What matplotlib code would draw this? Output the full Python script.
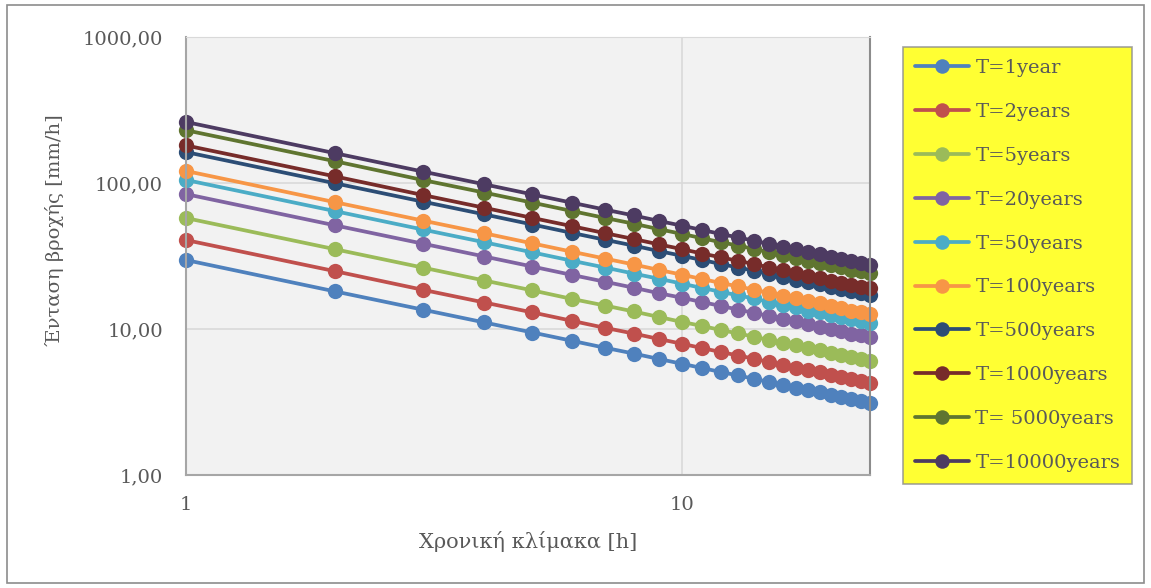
import matplotlib
matplotlib.use("Agg")
import matplotlib.pyplot as plt
from matplotlib.ticker import FixedLocator, NullLocator, FuncFormatter
from matplotlib.patches import Rectangle

plt.rcParams['font.family'] = ['DejaVu Serif', 'Liberation Serif']

durations = list(range(1, 25))

labels = ["T=1year", "T=2years", "T=5years", "T=20years", "T=50years",
          "T=100years", "T=500years", "T=1000years", "T= 5000years", "T=10000years"]

t1 = [29.7, 18.1, 13.6, 11.1, 9.47, 8.32, 7.45, 6.80, 6.24, 5.79, 5.41, 5.08,
      4.81, 4.57, 4.34, 4.16, 3.98, 3.80, 3.68, 3.53, 3.42, 3.30, 3.21, 3.12]
t2 = [40.7, 24.9, 18.6, 15.2, 13.0, 11.4, 10.2, 9.32, 8.55, 7.94, 7.41, 6.96,
      6.59, 6.27, 5.94, 5.70, 5.45, 5.21, 5.05, 4.84, 4.68, 4.52, 4.40, 4.27]
t5 = [57.6, 35.2, 26.4, 21.5, 18.4, 16.1, 14.5, 13.2, 12.1, 11.2, 10.5, 9.85,
      9.33, 8.87, 8.41, 8.06, 7.72, 7.37, 7.14, 6.85, 6.62, 6.39, 6.22, 6.05]
t20 = [84.0, 51.3, 38.5, 31.4, 26.8, 23.5, 21.1, 19.2, 17.6, 16.4, 15.3, 14.4,
       13.6, 12.9, 12.3, 11.8, 11.3, 10.8, 10.4, 10.0, 9.66, 9.32, 9.07, 8.82]
t50 = [105, 64.2, 48.1, 39.3, 33.5, 29.4, 26.4, 24.0, 22.1, 20.5, 19.1, 18.0,
       17.0, 16.2, 15.3, 14.7, 14.1, 13.4, 13.0, 12.5, 12.1, 11.7, 11.3, 11.0]
t100 = [121, 73.9, 55.4, 45.3, 38.6, 33.9, 30.4, 27.7, 25.4, 23.6, 22.0, 20.7,
        19.6, 18.6, 17.7, 16.9, 16.2, 15.5, 15.0, 14.4, 13.9, 13.4, 13.1, 12.7]
t500 = [163, 99.6, 74.7, 61.0, 52.0, 45.6, 40.9, 37.3, 34.2, 31.8, 29.7, 27.9,
        26.4, 25.1, 23.8, 22.8, 21.8, 20.9, 20.2, 19.4, 18.7, 18.1, 17.6, 17.1]
t1000 = [181, 111, 82.9, 67.7, 57.7, 50.7, 45.4, 41.4, 38.0, 35.3, 32.9, 31.0,
         29.3, 27.9, 26.4, 25.3, 24.3, 23.2, 22.4, 21.5, 20.8, 20.1, 19.5, 19.0]
t5000 = [230, 141, 105, 86.0, 73.4, 64.4, 57.7, 52.7, 48.3, 44.9, 41.9, 39.3,
         37.3, 35.4, 33.6, 32.2, 30.8, 29.4, 28.5, 27.4, 26.5, 25.5, 24.8, 24.2]
t10000 = [262, 160, 120, 98.0, 83.6, 73.4, 65.8, 60.0, 55.0, 51.1, 47.7, 44.8,
          42.4, 40.3, 38.3, 36.7, 35.1, 33.5, 32.5, 31.2, 30.1, 29.1, 28.3, 27.5]

series = [t1, t2, t5, t20, t50, t100, t500, t1000, t5000, t10000]
colors = ["#4f81bd", "#c0504d", "#9bbb59", "#8064a2", "#4bacc6",
          "#f79646", "#2c4d75", "#772c2a", "#5f7530", "#4d3b62"]

fig = plt.figure(figsize=(11.51, 5.88), dpi=100)
fig.patch.set_facecolor("white")
fig.patches.append(Rectangle((0.006, 0.008), 0.988, 0.984, transform=fig.transFigure,
                             fill=False, edgecolor="#8c8c8c", linewidth=1.2))

ax = fig.add_axes([0.1616, 0.192, 0.5944, 0.745])
ax.set_facecolor("#f2f2f2")
ax.set_xscale("log")
ax.set_yscale("log")
ax.set_xlim(1, 24)
ax.set_ylim(1, 1000)

ax.grid(True, which="major", color="#d9d9d9", linewidth=1.2)
ax.set_axisbelow(True)

for vals, c, lab in zip(series, colors, labels):
    ax.plot(durations, vals, color=c, linewidth=2.7, marker="o", markersize=11,
            markeredgewidth=0, label=lab, solid_capstyle="round", clip_on=False)

ax.xaxis.set_major_locator(FixedLocator([1, 10]))
ax.xaxis.set_minor_locator(NullLocator())
ax.yaxis.set_major_locator(FixedLocator([1, 10, 100, 1000]))
ax.yaxis.set_minor_locator(NullLocator())
ax.xaxis.set_major_formatter(FuncFormatter(lambda v, p: f"{v:.0f}"))
ax.yaxis.set_major_formatter(FuncFormatter(lambda v, p: f"{v:.2f}".replace(".", ",")))
ax.tick_params(axis="both", length=0, labelsize=14, labelcolor="#595959")
ax.tick_params(axis="x", pad=15)
ax.tick_params(axis="y", pad=16.5)

for side in ["left", "bottom"]:
    ax.spines[side].set_color("#a6a6a6")
    ax.spines[side].set_linewidth(1.5)
ax.spines["right"].set_color("#8c8c8c")
ax.spines["right"].set_linewidth(1.5)
ax.spines["top"].set_color("#d9d9d9")

ax.set_xlabel("Χρονική κλίμακα [h]", fontsize=15, color="#595959", labelpad=12)
ax.set_ylabel("Ένταση βροχής [mm/h]", fontsize=14, color="#595959")
ax.yaxis.set_label_coords(-0.178, 0.56)

leg = fig.legend(loc="upper left", bbox_to_anchor=(0.7845, 0.920),
                 frameon=True, fancybox=False, fontsize=14, handlelength=2.8,
                 labelspacing=1.33, handletextpad=0.3, borderpad=0.62,
                 borderaxespad=0, markerscale=0.95)
leg.get_frame().set_facecolor("#ffff00")
leg.get_frame().set_edgecolor("#8c8c8c")
leg.get_frame().set_linewidth(1.2)
for t in leg.get_texts():
    t.set_color("#595959")

fig.savefig("out.png", dpi=100)
